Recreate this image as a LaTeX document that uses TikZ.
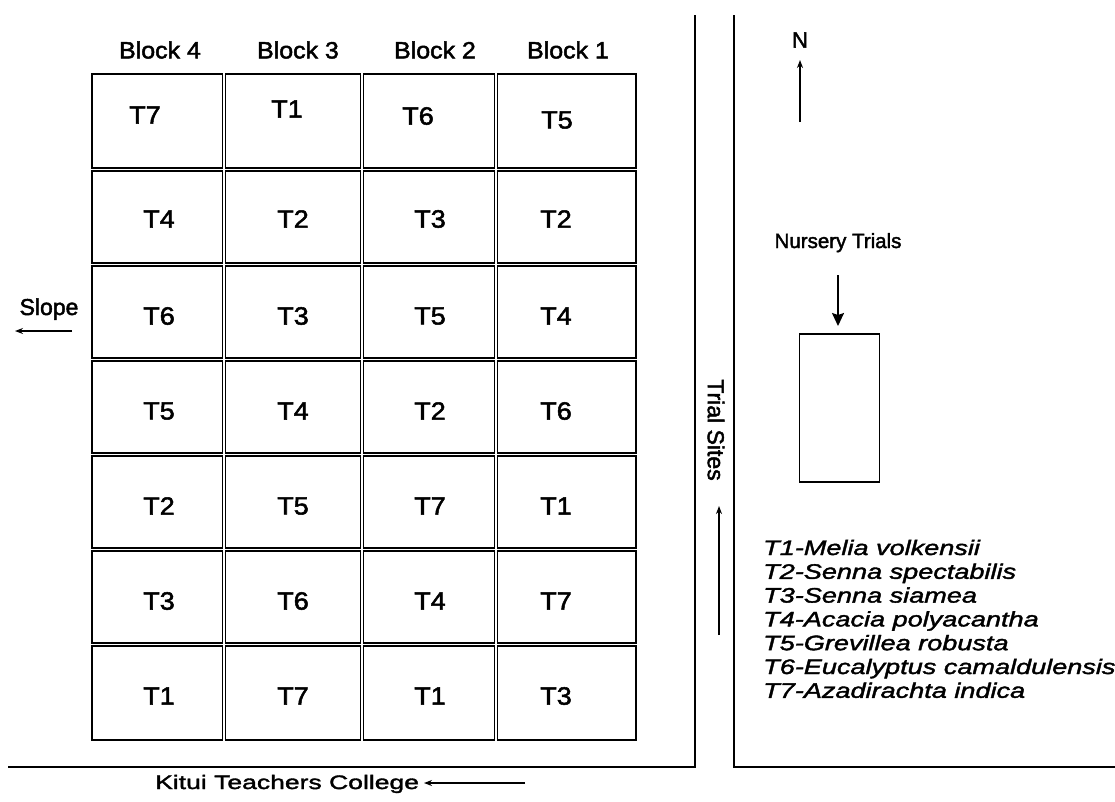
\documentclass[tikz,border=0pt]{standalone}
\usepackage{fontspec}
\setmainfont[FakeBold=2]{Liberation Sans}
\newfontfamily\cellfont[FakeStretch=1.08,FakeBold=2]{Liberation Sans}
\newfontfamily\blockfont[FakeStretch=1.06,FakeBold=2]{Liberation Sans}
\newfontfamily\legfont[FakeStretch=1.29,FakeBold=1.8]{Liberation Sans}
\newfontfamily\kitfont[FakeStretch=1.36,FakeBold=1.8]{Liberation Sans}
\usetikzlibrary{arrows.meta}
\begin{document}
\begin{tikzpicture}[x=1pt,y=-1pt,
  cellbox/.style={draw=black,line width=1.8pt},
  road/.style={draw=black,line width=2pt},
  lab/.style={inner sep=0pt,font=\cellfont\fontsize{25}{28}\selectfont},
  blab/.style={inner sep=0pt,font=\blockfont\fontsize{23.5}{28}\selectfont},
  plain/.style={inner sep=0pt,font=\fontsize{23}{28}\selectfont},
  leg/.style={inner sep=0pt,anchor=base west,font=\legfont\itshape\fontsize{21}{24}\selectfont},
  smallarrow/.style={draw=black,line width=1.8pt,-{Stealth[length=8pt,width=6pt]}},
  bigarrow/.style={draw=black,line width=1.8pt,-{Stealth[length=13pt,width=12pt,inset=2pt]}}]
\useasboundingbox (0,0) rectangle (1115,801);
\fill[white] (0,0) rectangle (1115,801);
% grid cells
\foreach \xa/\xb [count=\c] in {92/222.5,225.5/360.5,363.5/494.5,497.5/636}{
  \foreach \ya/\yb [count=\r] in {74/168,171/263,266/358,361/453,456/548,551/643,646/740}{
    \draw[cellbox] (\xa,\ya) rectangle (\xb,\yb);
  }
}
% block labels
\node[blab] (b4) at (160,50) {Block 4};
\node[blab] (b3) at (298,50) {Block 3};
\node[blab] (b2) at (435,50) {Block 2};
\node[blab] (b1) at (568,50) {Block 1};
% row 1
\node[lab] (r1c1) at (145,115) {T7};
\node[lab] (r1c2) at (287,109) {T1};
\node[lab] (r1c3) at (418,116) {T6};
\node[lab] (r1c4) at (557,120) {T5};
% other rows
\foreach \y/\a/\b/\cc/\d [count=\r from 2] in {219/T4/T2/T3/T2, 316/T6/T3/T5/T4, 411/T5/T4/T2/T6, 506/T2/T5/T7/T1, 601/T3/T6/T4/T7, 696/T1/T7/T1/T3}{
  \node[lab] (r\r c1) at (159,\y) {\a};
  \node[lab] (r\r c2) at (293,\y) {\b};
  \node[lab] (r\r c3) at (430,\y) {\cc};
  \node[lab] (r\r c4) at (556,\y) {\d};
}
% roads
\coordinate (la) at (695,15);
\coordinate (lb) at (695,767);
\coordinate (lc) at (8,767);
\coordinate (ra) at (734,15);
\coordinate (rb) at (734,767);
\coordinate (rc) at (1115,767);
\draw[road] (la) -- (lb) -- (lc);
\draw[road] (ra) -- (rb) -- (rc);
% north
\node[plain,font=\fontsize{22}{24}\selectfont] (n) at (800,40) {N};
\coordinate (na) at (800,122);
\coordinate (nb) at (800,60);
\draw[smallarrow] (na) -- (nb);
% slope
\node[plain,anchor=base] (slope) at (49,315) {Slope};
\coordinate (sa) at (72,331);
\coordinate (sb) at (15,331);
\draw[smallarrow] (sa) -- (sb);
% trial sites
\node[plain,rotate=-90] (trial) at (716,430) {Trial Sites};
\coordinate (ta) at (719,635);
\coordinate (tb) at (719,506);
\draw[smallarrow] (ta) -- (tb);
% kitui
\node[inner sep=0pt,anchor=base west,font=\kitfont\fontsize{19.5}{24}\selectfont] (kitui) at (155,789) {Kitui Teachers College};
\coordinate (ka) at (525,783);
\coordinate (kb) at (424,783);
\draw[smallarrow] (ka) -- (kb);
% nursery
\node[plain,anchor=base,font=\fontsize{20.5}{24}\selectfont] (nurs) at (838,248) {Nursery Trials};
\node[draw=black,line width=1.8pt,minimum width=80pt,minimum height=148pt,inner sep=0pt] (nbox) at (839.5,408) {};
\coordinate (nua) at (838,275);
\coordinate (nub) at (838,326);
\draw[bigarrow] (nua) -- (nub);
% legend
\node[leg] (l1) at (763,555) {T1-Melia volkensii};
\node[leg] (l2) at (763,578.8) {T2-Senna spectabilis};
\node[leg] (l3) at (763,602.6) {T3-Senna siamea};
\node[leg] (l4) at (763,626.4) {T4-Acacia polyacantha};
\node[leg] (l5) at (763,650.2) {T5-Grevillea robusta};
\node[leg] (l6) at (763,674) {T6-Eucalyptus camaldulensis};
\node[leg] (l7) at (763,697.8) {T7-Azadirachta indica};
\end{tikzpicture}
\end{document}
